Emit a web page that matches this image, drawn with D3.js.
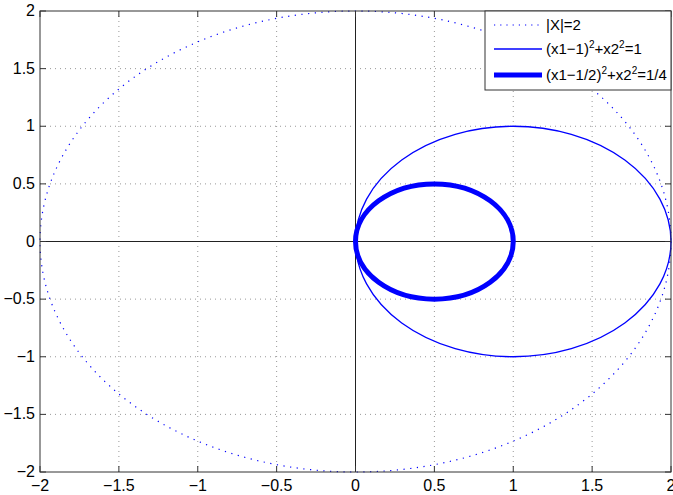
<!DOCTYPE html>
<html>
<head>
<meta charset="utf-8">
<script src="https://cdn.jsdelivr.net/npm/d3@7"></script>
<style>
body { margin: 0; background: #fff; }
text { font-family: "Liberation Sans", Arial, sans-serif; }
</style>
</head>
<body>
<svg id="chart"></svg>
<script>
// axis ticks
var xTicks = [-2, -1.5, -1, -0.5, 0, 0.5, 1, 1.5, 2];
var yTicks = [-2, -1.5, -1, -0.5, 0, 0.5, 1, 1.5, 2];

// circles: centre x, centre y, radius
var centerX = [0, 1, 0.5];
var centerY = [0, 0, 0];
var radius = [2, 1, 0.5];
var labels = ["|X|=2", "(x1\u22121)^2+x2^2=1", "(x1\u22121/2)^2+x2^2=1/4"];

var width = 673,
height = 495,
pLeft = 40, pRight = 671, pTop = 11, pBottom = 472;

var svg = d3.select("#chart")
    .attr("width", width)
    .attr("height", height);

var x = d3.scaleLinear().domain([-2, 2]).range([pLeft, pRight]);
var y = d3.scaleLinear().domain([-2, 2]).range([pBottom, pTop]);

// grid
var grid = svg.append("g");
grid.selectAll("line.gx")
    .data(xTicks.slice(1, -1))
    .enter().append("line")
    .attr("class", "gx")
    .attr("x1", d => x(d)).attr("x2", d => x(d))
    .attr("y1", pTop).attr("y2", pBottom)
    .attr("stroke", "#999").attr("stroke-width", 1)
    .attr("stroke-dasharray", "1,4");
grid.selectAll("line.gy")
    .data(yTicks.slice(1, -1))
    .enter().append("line")
    .attr("class", "gy")
    .attr("y1", d => y(d)).attr("y2", d => y(d))
    .attr("x1", pLeft).attr("x2", pRight)
    .attr("stroke", "#999").attr("stroke-width", 1)
    .attr("stroke-dasharray", "1,4");

// black zero lines
svg.append("line")
    .attr("x1", x(0)).attr("x2", x(0))
    .attr("y1", y(-2)).attr("y2", y(2))
    .attr("stroke", "#222").attr("stroke-width", 1);
svg.append("line")
    .attr("x1", x(-2)).attr("x2", x(2))
    .attr("y1", y(0)).attr("y2", y(0))
    .attr("stroke", "#222").attr("stroke-width", 1);

// circles
var styles = [
    {w: 1.2, dash: "1.2,5.5"},
    {w: 1.3, dash: null},
    {w: 5, dash: null}
];
svg.selectAll("ellipse")
    .data(radius)
    .enter().append("ellipse")
    .attr("cx", (d, i) => x(centerX[i]))
    .attr("cy", (d, i) => y(centerY[i]))
    .attr("rx", d => x(d) - x(0))
    .attr("ry", d => y(0) - y(d))
    .attr("fill", "none")
    .attr("stroke", "#0000ff")
    .attr("stroke-width", (d, i) => styles[i].w)
    .attr("stroke-dasharray", (d, i) => styles[i].dash);

// axes box with inward ticks
var axisColor = "#333";
svg.append("rect")
    .attr("x", pLeft).attr("y", pTop)
    .attr("width", pRight - pLeft).attr("height", pBottom - pTop)
    .attr("fill", "none").attr("stroke", axisColor).attr("stroke-width", 1);

var tickLen = 6;
var tk = svg.append("g").attr("stroke", axisColor).attr("stroke-width", 1);
xTicks.forEach(function(d) {
    tk.append("line").attr("x1", x(d)).attr("x2", x(d)).attr("y1", pBottom).attr("y2", pBottom - tickLen);
    tk.append("line").attr("x1", x(d)).attr("x2", x(d)).attr("y1", pTop).attr("y2", pTop + tickLen);
});
yTicks.forEach(function(d) {
    tk.append("line").attr("y1", y(d)).attr("y2", y(d)).attr("x1", pLeft).attr("x2", pLeft + tickLen);
    tk.append("line").attr("y1", y(d)).attr("y2", y(d)).attr("x1", pRight).attr("x2", pRight - tickLen);
});

// tick labels
svg.append("g").selectAll("text")
    .data(xTicks)
    .enter().append("text")
    .attr("x", d => x(d))
    .attr("y", pBottom + 19)
    .attr("text-anchor", "middle")
    .attr("font-size", "16px")
    .text(d => String(d).replace("-", "\u2212"));
svg.append("g").selectAll("text")
    .data(yTicks)
    .enter().append("text")
    .attr("x", pLeft - 5)
    .attr("y", d => y(d) + 5)
    .attr("text-anchor", "end")
    .attr("font-size", "16px")
    .text(d => String(d).replace("-", "\u2212"));

// legend
var lg = svg.append("g");
lg.append("rect")
    .attr("x", 485).attr("y", pTop)
    .attr("width", pRight - 485).attr("height", 79)
    .attr("fill", "#fff").attr("stroke", axisColor).attr("stroke-width", 1);

var rowY = [25, 49, 75];
labels.forEach(function(lab, i) {
    lg.append("line")
        .attr("x1", 494).attr("x2", 542)
        .attr("y1", rowY[i]).attr("y2", rowY[i])
        .attr("stroke", "#0000ff")
        .attr("stroke-width", styles[i].w)
        .attr("stroke-dasharray", i === 0 ? "1.2,5" : null);
    var t = lg.append("text")
        .attr("x", 546).attr("y", rowY[i] + 5)
        .attr("font-size", "15px");
    var pending = 0;
    lab.split(/(\^2)/).forEach(function(part) {
        if (part === "^2") {
            t.append("tspan").attr("dy", -6).attr("font-size", "10px").text("2");
            pending = 6;
        } else if (part) {
            t.append("tspan").attr("dy", pending).text(part);
            pending = 0;
        }
    });
});
</script>
</body>
</html>
